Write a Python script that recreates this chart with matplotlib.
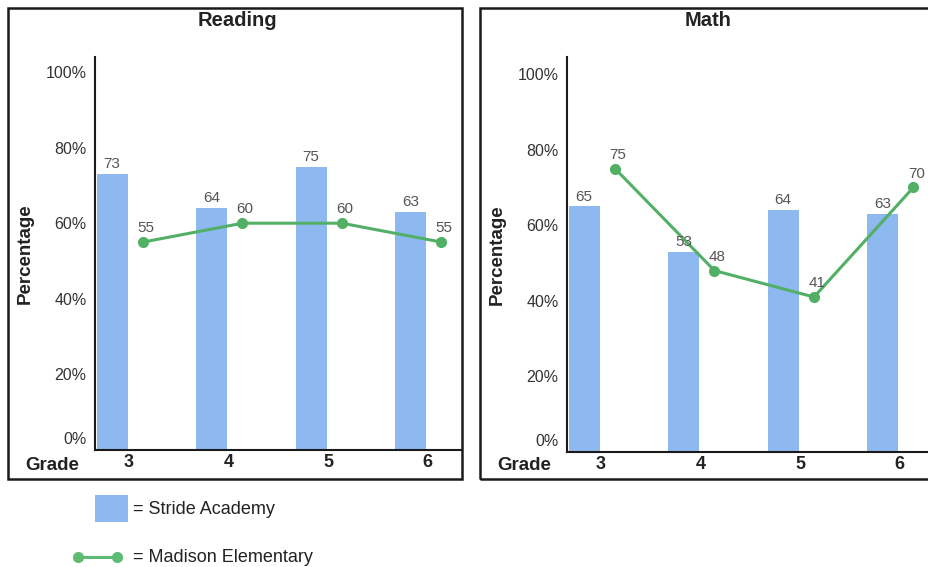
import matplotlib
matplotlib.use("Agg")
import matplotlib.pyplot as plt
from matplotlib.patches import Rectangle
from matplotlib.lines import Line2D
from matplotlib.transforms import ScaledTranslation

plt.rcParams['font.family'] = ['Liberation Sans', 'DejaVu Sans']

grades = ["3", "4", "5", "6"]
reading_stride = [73, 64, 75, 63]
reading_madison = [55, 60, 60, 55]
math_stride = [65, 53, 64, 63]
math_madison = [75, 48, 41, 70]
yticks = [0, 20, 40, 60, 80, 100]
ytick_labels = ["0%", "20%", "40%", "60%", "80%", "100%"]

W, H = 929, 567
BAR_COLOR = "#8DB8F0"
LINE_COLOR = "#52B066"
TEXT_GRAY = "#555555"

fig = plt.figure(figsize=(W / 100, H / 100), dpi=100)


def fx(px):
    return px / W


def fy(py):
    return 1 - py / H


def box(x0, y0, x1, y1):
    fig.patches.append(Rectangle((fx(x0), fy(y1)), fx(x1) - fx(x0), fy(y0) - fy(y1),
                                 transform=fig.transFigure, fill=False,
                                 edgecolor="#1a1a1a", linewidth=1.8, zorder=0))


def panel(ax_left, ax_right, ax_top, ax_bottom, first_tick_px, title, title_x,
          stride, madison):
    unit = 99.5
    ax = fig.add_axes([fx(ax_left), fy(ax_bottom), fx(ax_right) - fx(ax_left),
                       fy(ax_top) - fy(ax_bottom)])
    ppp = 3.78  # pixels per percent
    ax.set_ylim(0, (ax_bottom - ax_top) / ppp)
    ax.set_xlim(-(first_tick_px - ax_left) / unit, (ax_right - first_tick_px) / unit)
    xs = list(range(len(grades)))
    bar_x = [x - 0.17 for x in xs]
    line_x = [x + 0.14 for x in xs]
    ax.bar(bar_x, stride, width=0.31, color=BAR_COLOR, zorder=1)
    ax.plot(line_x, madison, color=LINE_COLOR, linewidth=2.2, marker="o",
            markersize=7, zorder=3)
    for x, v in zip(bar_x, stride):
        ax.annotate(str(v), (x, v), xytext=(0, 2), textcoords="offset points",
                    ha="center", va="bottom", fontsize=11, color=TEXT_GRAY)
    for x, v in zip(line_x, madison):
        ax.annotate(str(v), (x, v), xytext=(2, 10), textcoords="offset points",
                    ha="center", va="center", fontsize=11, color=TEXT_GRAY, zorder=4)
    ax.set_yticks(yticks)
    ax.set_yticklabels(ytick_labels, fontsize=11.5, color="#333333")
    ax.set_xticks(xs)
    ax.set_xticklabels(grades, fontsize=13, fontweight="bold", color="#222222")
    ax.tick_params(axis="both", length=0)
    ax.tick_params(axis="y", pad=6)
    ax.tick_params(axis="x", pad=3)
    # lift the 0% label slightly above the axis, as in the original
    zero_lbl = ax.get_yticklabels()[0]
    zero_lbl.set_transform(zero_lbl.get_transform() +
                           ScaledTranslation(0, 12 / 100, fig.dpi_scale_trans))
    for s in ["top", "right"]:
        ax.spines[s].set_visible(False)
    for s in ["left", "bottom"]:
        ax.spines[s].set_linewidth(1.5)
        ax.spines[s].set_color("#1a1a1a")
    ax.set_ylabel("Percentage", fontsize=13.5, fontweight="bold", color="#222222")
    ax.yaxis.set_label_coords(-70 / (ax_right - ax_left), 0.5)
    ax.yaxis.label.set_va("center")
    ax.set_facecolor("none")
    fig.text(fx(title_x), fy(20), title, ha="center", va="center",
             fontsize=14.5, fontweight="bold", color="#222222")
    fig.text(fx(ax_left - 43), fy(465), "Grade", ha="center", va="center",
             fontsize=13.5, fontweight="bold", color="#222222")
    return ax


box(8, 8, 462, 479)
box(480, 8, 940, 479)

panel(95, 462, 57, 450, 129, "Reading", 237, reading_stride, reading_madison)
panel(567, 929, 57, 452, 601, "Math", 708, math_stride, math_madison)

# legend
fig.patches.append(Rectangle((fx(95), fy(522)), fx(128) - fx(95), fy(495) - fy(522),
                             transform=fig.transFigure, facecolor=BAR_COLOR,
                             edgecolor="none"))
fig.text(fx(133), fy(510), "= Stride Academy", ha="left", va="center",
         fontsize=13, color="#222222")
fig.lines.append(Line2D([fx(78), fx(117)], [fy(557), fy(557)], transform=fig.transFigure,
                        color="#5DBB73", linewidth=2.2, marker="o", markersize=7))
fig.text(fx(133), fy(557), "= Madison Elementary", ha="left", va="center",
         fontsize=13, color="#222222")

fig.savefig("out.png", dpi=100)
